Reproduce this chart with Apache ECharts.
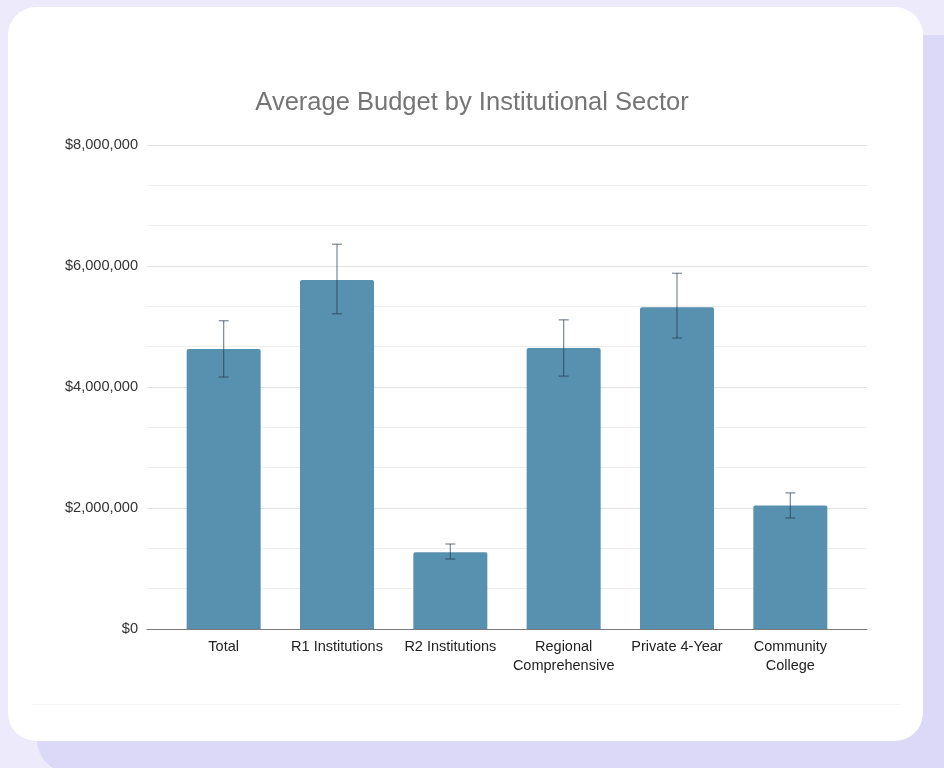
<!DOCTYPE html>
<html>
<head>
<meta charset="utf-8">
<script src="https://cdn.jsdelivr.net/npm/echarts@6/dist/echarts.min.js"></script>
<style>
  html, body { margin: 0; padding: 0; }
  body { width: 944px; height: 768px; background: #eceafb; position: relative; overflow: hidden; }
  .shadow { position: absolute; left: 37px; top: 35px; width: 940px; height: 737px; background: #dcd8f8; border-radius: 32px; }
  .card { position: absolute; left: 8px; top: 7px; width: 915px; height: 734px; background: #fff; border-radius: 28px; }
  .sep { position: absolute; left: 32px; top: 704px; width: 868px; height: 1px; background: #f4f4f6; }
  #chart { position: absolute; left: 0; top: 0; width: 944px; height: 768px; }
</style>
</head>
<body>
<div class="shadow"></div>
<div class="card"></div>
<div class="sep"></div>
<div id="chart"></div>
<script>
// 数据
var categories = ['Total', 'R1 Institutions', 'R2 Institutions', 'Regional\nComprehensive', 'Private 4-Year', 'Community\nCollege'];
var budgets = [4630000, 5770000, 1270000, 4645000, 5320000, 2040000];
var errLow = [4165000, 5210000, 1157000, 4180000, 4810000, 1835000];
var errHigh = [5095000, 6360000, 1405000, 5110000, 5880000, 2250000];
var yTicks = [0, 2000000, 4000000, 6000000, 8000000];

var errData = categories.map(function (c, i) {
    return [i, errLow[i], errHigh[i]];
});

function renderErr(params, api) {
    var x = api.value(0);
    var lo = api.coord([x, api.value(1)]);
    var hi = api.coord([x, api.value(2)]);
    var w = 5;
    var style = { stroke: 'rgba(35,55,75,0.6)', lineWidth: 1.2 };
    return {
        type: 'group',
        children: [
            { type: 'line', shape: { x1: lo[0], y1: lo[1], x2: hi[0], y2: hi[1] }, style: style },
            { type: 'line', shape: { x1: hi[0] - w, y1: hi[1], x2: hi[0] + w, y2: hi[1] }, style: style },
            { type: 'line', shape: { x1: lo[0] - w, y1: lo[1], x2: lo[0] + w, y2: lo[1] }, style: style }
        ]
    };
}

var myChart = echarts.init(document.getElementById('chart'));
var option = {
    backgroundColor: 'transparent',
    textStyle: { fontFamily: 'Liberation Sans, Arial, sans-serif' },
    title: {
        text: 'Average Budget by Institutional Sector',
        left: 'center',
        top: 85,
        textStyle: { color: '#757575', fontSize: 25.5, fontWeight: 'normal', fontFamily: 'Liberation Sans, Arial, sans-serif' }
    },
    grid: [
        { left: 147, right: 77, top: 145, bottom: 139 },
        { left: 167, right: 97, top: 145, bottom: 139 }
    ],
    xAxis: [
        {
            gridIndex: 0, type: 'value', min: 0, max: 1,
            axisLabel: { show: false }, axisTick: { show: false }, splitLine: { show: false },
            axisLine: { show: true, lineStyle: { color: '#7a7a7a', width: 1 } }
        },
        {
            gridIndex: 1, type: 'category', data: categories,
            axisLine: { show: false }, axisTick: { show: false },
            axisLabel: { color: '#222', fontSize: 14.5, margin: 8, lineHeight: 19, interval: 0 }
        }
    ],
    yAxis: [
        {
            gridIndex: 0, type: 'value', min: 0, max: 8000000, interval: 2000000,
            axisLine: { show: false }, axisTick: { show: false },
            axisLabel: {
                color: '#333', fontSize: 14.6, margin: 9,
                formatter: function (v) { return '$' + v.toLocaleString('en-US'); }
            },
            splitLine: { lineStyle: { color: '#e2e2e2', width: 1 } },
            minorTick: { show: false, splitNumber: 3 },
            minorSplitLine: { show: true, lineStyle: { color: '#eeeeee', width: 1 } }
        },
        {
            gridIndex: 1, type: 'value', min: 0, max: 8000000, interval: 2000000,
            show: false, splitLine: { show: false }
        }
    ],
    series: [
        {
            type: 'bar',
            xAxisIndex: 1, yAxisIndex: 1,
            data: budgets,
            barWidth: 74,
            itemStyle: { color: '#5891b0', borderRadius: [2, 2, 0, 0] },
            z: 2
        },
        {
            type: 'custom',
            xAxisIndex: 1, yAxisIndex: 1,
            renderItem: renderErr,
            data: errData,
            z: 3
        }
    ]
};
myChart.setOption(option);
</script>
</body>
</html>
